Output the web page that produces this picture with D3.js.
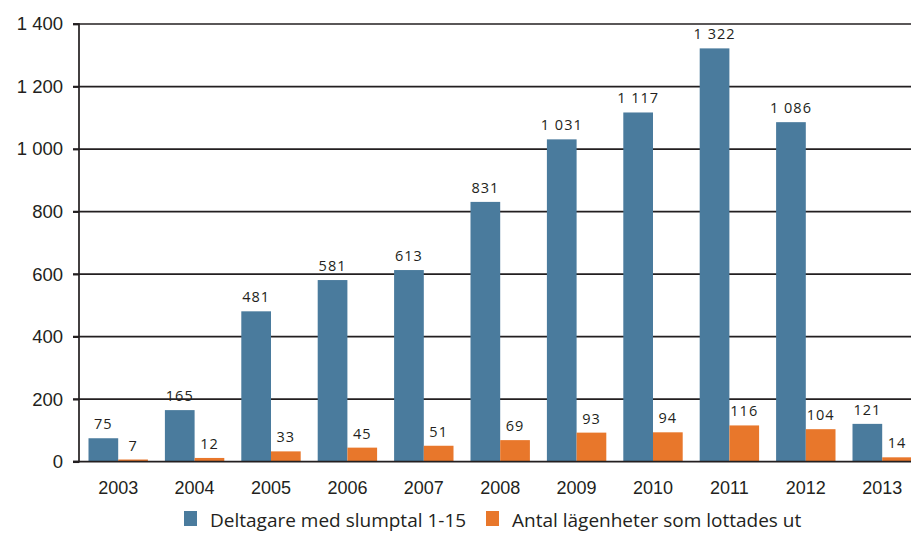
<!DOCTYPE html>
<html>
<head>
<meta charset="utf-8">
<script src="https://cdn.jsdelivr.net/npm/d3@7"></script>
<style>
  html, body { margin: 0; padding: 0; background: #fff; }
  svg { display: block; font-family: "Open Sans", "Noto Sans", sans-serif; }
</style>
</head>
<body>
<svg id="chart" width="911" height="533"></svg>
<script>
// Lottery data per year
const years = ["2003","2004","2005","2006","2007","2008","2009","2010","2011","2012","2013"];
const participants = [75, 165, 481, 581, 613, 831, 1031, 1117, 1322, 1086, 121];
const apartments = [7, 12, 33, 45, 51, 69, 93, 94, 116, 104, 14];
const seriesNames = ["Deltagare med slumptal 1-15", "Antal lägenheter som lottades ut"];
const seriesColors = ["#4a7b9d", "#e8772b"];
const yTicks = [0, 200, 400, 600, 800, 1000, 1200, 1400];

const svg = d3.select("#chart");
const plotLeft = 79, plotTop = 24, plotBottom = 461.7, plotRight = 920.4;

const sv = d3.formatLocale({ decimal: ",", thousands: "\u00a0", grouping: [3], currency: ["", " kr"] });
const fmt = sv.format(",d");

const y = d3.scaleLinear().domain([0, 1400]).range([plotBottom, plotTop]);
const x0 = d3.scaleBand().domain(years).range([plotLeft + 1, plotRight])
  .paddingInner(17 / 76.4).paddingOuter(8.5 / 76.4);
const x1 = d3.scaleBand().domain([0, 1]).range([0, x0.bandwidth()]);

// Gridlines (behind bars)
svg.append("g")
  .selectAll("line").data(yTicks.filter(d => d > 0)).join("line")
  .attr("x1", plotLeft - 6).attr("x2", 911)
  .attr("y1", d => y(d)).attr("y2", d => y(d))
  .attr("stroke", "#231f20").attr("stroke-width", 1.7);

// Bars
const groups = svg.append("g").selectAll("g").data(years).join("g")
  .attr("transform", d => `translate(${x0(d)},0)`);

groups.selectAll("rect")
  .data((d, i) => [participants[i], apartments[i]])
  .join("rect")
  .attr("x", (d, j) => x1(j))
  .attr("width", x1.bandwidth())
  .attr("y", d => y(d))
  .attr("height", d => y(0) - y(d))
  .attr("fill", (d, j) => seriesColors[j]);

// Value labels
groups.selectAll("text")
  .data((d, i) => [participants[i], apartments[i]])
  .join("text")
  .attr("x", (d, j) => x1(j) + x1.bandwidth() / 2)
  .attr("y", d => y(d) - 9)
  .attr("text-anchor", "middle")
  .attr("font-size", 14.5)
  .attr("letter-spacing", 1)
  .attr("fill", "#231f20")
  .text(d => fmt(d));

// Y axis
const yAxis = d3.axisLeft(y).tickValues(yTicks).tickSize(6).tickPadding(10).tickFormat(fmt);
const gy = svg.append("g").attr("transform", `translate(${plotLeft},0)`).call(yAxis);
gy.select(".domain").attr("stroke", "#231f20").attr("stroke-width", 1.7).attr("d", `M-6,${plotBottom}H0V${plotTop}H-6`);
gy.selectAll(".tick line").attr("stroke", "#231f20").attr("stroke-width", 1.7);
gy.selectAll(".tick text").attr("font-size", 18.5).attr("fill", "#231f20").attr("font-family", "inherit");

// Baseline
svg.append("line")
  .attr("x1", plotLeft - 6).attr("x2", 911)
  .attr("y1", y(0)).attr("y2", y(0))
  .attr("stroke", "#231f20").attr("stroke-width", 1.7);

// X axis labels
const xAxis = d3.axisBottom(x0).tickSize(0).tickPadding(20);
const gx = svg.append("g").attr("transform", `translate(0,${plotBottom})`).call(xAxis);
gx.select(".domain").remove();
gx.selectAll(".tick text").attr("font-size", 18).attr("fill", "#231f20").attr("font-family", "inherit");

// Legend
const legendItems = [
  { name: seriesNames[0], color: seriesColors[0], x: 184 },
  { name: seriesNames[1], color: seriesColors[1], x: 486 }
];
const lg = svg.append("g").selectAll("g").data(legendItems).join("g")
  .attr("transform", d => `translate(${d.x},511)`);
lg.append("rect").attr("width", 13).attr("height", 15).attr("fill", d => d.color);
lg.append("text").attr("x", 26).attr("y", 16)
  .attr("font-size", 19).attr("fill", "#231f20")
  .text(d => d.name);
</script>
</body>
</html>
